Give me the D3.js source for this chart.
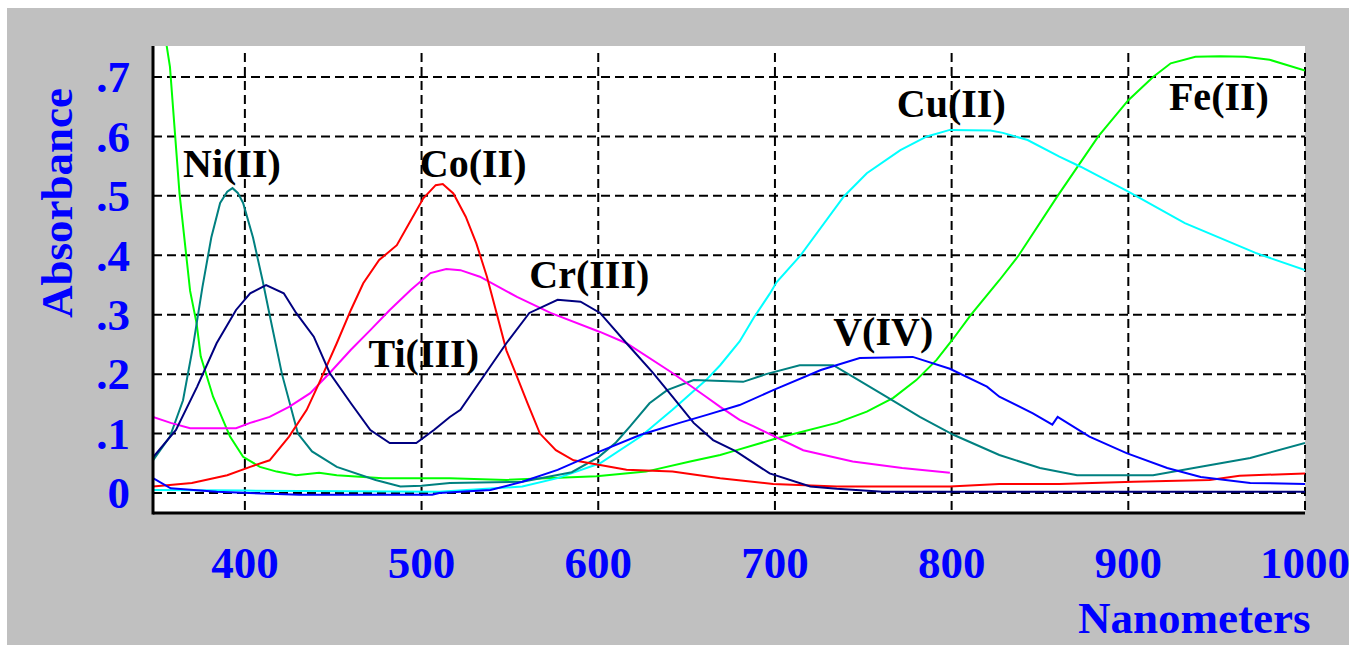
<!DOCTYPE html>
<html>
<head>
<meta charset="utf-8">
<script src="https://cdn.jsdelivr.net/npm/d3@7"></script>
<style>
  body { margin: 0; background: #fff; }
  svg { display: block; }
  text { font-family: "Liberation Serif", "Times New Roman", serif; font-weight: bold; }
</style>
</head>
<body>
<svg width="1349" height="645"></svg>
<script>
// tick values / labels
var xTicks = [400, 500, 600, 700, 800, 900, 1000];
var yTicks = [0, 0.1, 0.2, 0.3, 0.4, 0.5, 0.6, 0.7];
var yTickLabels = ["0", ".1", ".2", ".3", ".4", ".5", ".6", ".7"];

// spectra, [nm, absorbance]
var niData = [[348,0.055],[357.6,0.095],[365,0.156],[370.6,0.246],[376,0.347],[381,0.43],[386,0.488],[390,0.507],[393,0.513],[396,0.505],[399,0.488],[404.6,0.43],[410,0.358],[414,0.3],[421,0.2],[430,0.1],[438,0.07],[452,0.044],[474,0.022],[488,0.011],[500,0.012],[516,0.017],[557,0.019],[585,0.035],[600,0.06],[610,0.085],[618,0.112],[629,0.151],[639,0.173],[654,0.19],[682,0.187],[695,0.2],[714,0.215],[733,0.215],[744,0.196],[763,0.162],[782,0.128],[801,0.098],[827,0.064],[850,0.042],[871,0.03],[914,0.03],[941,0.044],[969,0.059],[1000,0.084]];
var coData = [[348,0.011],[370,0.017],[390,0.03],[403,0.044],[414,0.055],[425,0.095],[435,0.14],[442,0.185],[452,0.252],[460,0.308],[467,0.353],[476,0.392],[486,0.417],[493,0.454],[501,0.496],[508,0.518],[512,0.52],[518,0.504],[525,0.465],[531,0.42],[537,0.364],[542,0.308],[548,0.24],[554,0.196],[560,0.151],[567,0.1],[576,0.072],[586,0.055],[601,0.047],[616,0.039],[642,0.036],[669,0.025],[699,0.015],[735,0.011],[799,0.011],[827,0.015],[861,0.015],[903,0.019],[946,0.022],[963,0.029],[1000,0.033]];
var tiData = [[348,0.128],[358,0.118],[369,0.109],[395,0.109],[403,0.118],[414,0.128],[425,0.145],[437,0.168],[448,0.202],[460,0.241],[471,0.274],[482,0.308],[494,0.342],[505,0.37],[514,0.377],[522,0.375],[533,0.364],[554,0.33],[573,0.303],[601,0.271],[616,0.252],[642,0.202],[661,0.162],[669,0.145],[680,0.123],[688,0.112],[716,0.072],[744,0.053],[772,0.042],[799,0.034]];
var crData = [[348,0.06],[361,0.106],[373,0.179],[384,0.252],[395,0.308],[403,0.336],[412,0.35],[422,0.336],[429,0.303],[439,0.263],[448,0.202],[460,0.151],[471,0.106],[482,0.084],[497,0.084],[507,0.106],[516,0.128],[522,0.14],[535,0.196],[548,0.252],[561,0.303],[577,0.325],[590,0.322],[601,0.303],[616,0.252],[631,0.202],[642,0.162],[654,0.118],[665,0.089],[678,0.07],[697,0.033],[720,0.011],[735,0.007],[761,0.002],[1000,0.002]];
var vData = [[348,0.025],[358,0.008],[384,0.002],[431,-0.003],[506,-0.003],[510,0],[539,0.005],[557,0.019],[577,0.039],[601,0.07],[624,0.098],[646,0.118],[661,0.131],[680,0.148],[699,0.173],[726,0.207],[748,0.227],[778,0.229],[799,0.209],[820,0.179],[827,0.162],[846,0.134],[857,0.115],[860,0.128],[878,0.095],[899,0.067],[922,0.042],[941,0.027],[969,0.017],[1000,0.015]];
var cuData = [[348,0.005],[400,0.004],[510,0.002],[557,0.011],[577,0.025],[601,0.05],[624,0.095],[642,0.14],[661,0.19],[669,0.215],[680,0.255],[688,0.295],[697,0.335],[701,0.355],[714,0.398],[739,0.499],[752,0.538],[771,0.577],[786,0.6],[799,0.611],[822,0.61],[829,0.606],[843,0.594],[861,0.566],[873,0.549],[900,0.507],[932,0.454],[972,0.404],[1000,0.375]];
var feData = [[348,0.9],[357.6,0.717],[363,0.504],[369,0.34],[372.7,0.285],[375,0.23],[382,0.162],[391.6,0.095],[399,0.061],[408.5,0.044],[418,0.036],[429,0.03],[442,0.034],[452,0.03],[478,0.025],[516,0.025],[548,0.022],[599,0.028],[627,0.036],[652,0.053],[669,0.064],[676,0.07],[701,0.092],[735,0.118],[752,0.137],[767,0.16],[780,0.19],[791.5,0.224],[801,0.26],[811,0.3],[827,0.358],[838,0.4],[860,0.5],[883,0.6],[900,0.661],[914,0.7],[924,0.723],[938,0.734],[952,0.735],[966,0.734],[980,0.729],[1000,0.711]];

var seriesNames = ["Fe(II)", "Cu(II)", "Ni(II)", "Ti(III)", "Co(II)", "Cr(III)", "V(IV)"];
var seriesColors = ["#00ff00", "#00ffff", "#008080", "#ff00ff", "#ff0000", "#000080", "#0000ff"];
var seriesData = [feData, cuData, niData, tiData, coData, crData, vData];

// label anchor points (nm, absorbance at baseline)
var labelX = [923, 769, 365, 470, 499, 561, 733];
var labelY = [0.644, 0.633, 0.532, 0.212, 0.532, 0.345, 0.249];

var svg = d3.select("svg");

// grey panel
svg.append("rect")
    .attr("x", 7).attr("y", 8)
    .attr("width", 1342).attr("height", 637)
    .attr("fill", "#c0c0c0");

var plotLeft = 153, plotRight = 1305, plotTop = 46, plotBottom = 513;

var x = d3.scaleLinear().domain([348, 1000]).range([plotLeft, plotRight]);
var y = d3.scaleLinear().domain([0, 0.7]).range([493, 77]);

svg.append("rect")
    .attr("x", plotLeft).attr("y", plotTop)
    .attr("width", plotRight - plotLeft).attr("height", plotBottom - plotTop)
    .attr("fill", "#fff");

svg.append("clipPath").attr("id", "plotclip")
  .append("rect")
    .attr("x", plotLeft).attr("y", plotTop)
    .attr("width", plotRight - plotLeft).attr("height", plotBottom - plotTop);

// dashed grid
var grid = svg.append("g");
grid.selectAll(".hgrid")
    .data(yTicks)
    .enter().append("line")
    .attr("x1", plotLeft).attr("x2", plotRight)
    .attr("y1", d => y(d)).attr("y2", d => y(d))
    .attr("stroke", "#000").attr("stroke-width", 2)
    .attr("stroke-dasharray", "9,5");
grid.selectAll(".vgrid")
    .data(xTicks)
    .enter().append("line")
    .attr("x1", d => x(d)).attr("x2", d => x(d))
    .attr("y1", plotTop + 7).attr("y2", plotBottom)
    .attr("stroke", "#000").attr("stroke-width", 2)
    .attr("stroke-dasharray", "9,5");

// curves
var line = d3.line()
    .x(d => x(d[0]))
    .y(d => y(d[1]));

svg.append("g")
    .attr("clip-path", "url(#plotclip)")
  .selectAll("path")
    .data(seriesData)
    .enter().append("path")
    .attr("d", line)
    .attr("fill", "none")
    .attr("stroke", (d, i) => seriesColors[i])
    .attr("stroke-width", 2);

// axis lines
svg.append("line")
    .attr("x1", plotLeft).attr("x2", plotLeft)
    .attr("y1", plotTop).attr("y2", plotBottom + 1.5)
    .attr("stroke", "#000").attr("stroke-width", 3);
svg.append("line")
    .attr("x1", plotLeft).attr("x2", plotRight)
    .attr("y1", plotBottom).attr("y2", plotBottom)
    .attr("stroke", "#000").attr("stroke-width", 3);

// tick labels
svg.selectAll(".ylab")
    .data(yTicks)
    .enter().append("text")
    .attr("x", 130)
    .attr("y", d => y(d))
    .attr("dy", "0.34em")
    .attr("text-anchor", "end")
    .attr("font-size", 45)
    .attr("fill", "#0000ff")
    .text((d, i) => yTickLabels[i]);

svg.selectAll(".xlab")
    .data(xTicks)
    .enter().append("text")
    .attr("x", d => x(d))
    .attr("y", 578)
    .attr("text-anchor", "middle")
    .attr("font-size", 45)
    .attr("fill", "#0000ff")
    .text(d => d);

// axis titles
svg.append("text")
    .attr("transform", "translate(72,203) rotate(-90)")
    .attr("text-anchor", "middle")
    .attr("font-size", 45)
    .attr("fill", "#0000ff")
    .text("Absorbance");

svg.append("text")
    .attr("x", 1078).attr("y", 633)
    .attr("font-size", 45)
    .attr("fill", "#0000ff")
    .text("Nanometers");

// curve labels
svg.selectAll(".clab")
    .data(seriesNames)
    .enter().append("text")
    .attr("x", (d, i) => x(labelX[i]))
    .attr("y", (d, i) => y(labelY[i]))
    .attr("font-size", 40)
    .attr("fill", "#000")
    .text(d => d);
</script>
</body>
</html>
